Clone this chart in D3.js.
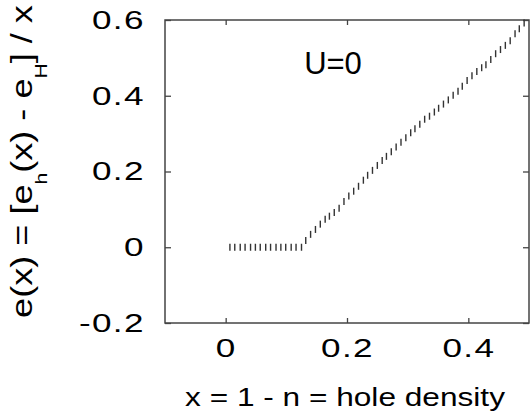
<!DOCTYPE html>
<html>
<head>
<meta charset="utf-8">
<script src="https://cdn.jsdelivr.net/npm/d3@7"></script>
<style>
  html, body { margin: 0; padding: 0; background: #fff; }
  svg { display: block; }
  text { font-family: "Liberation Sans", Arial, Helvetica, sans-serif; fill: #000; }
</style>
</head>
<body>
<svg id="chart" width="530" height="417"></svg>
<script>
// hole density x and normalised energy e(x) for U = 0
const holeDensity = [
  0.007, 0.015, 0.024, 0.032, 0.041, 0.049, 0.057, 0.066, 0.074, 0.083,
  0.091, 0.099, 0.108, 0.116, 0.125,
  0.132, 0.140, 0.148, 0.156, 0.164, 0.171, 0.179, 0.187, 0.195, 0.203,
  0.211, 0.219, 0.227, 0.234, 0.242, 0.250, 0.258, 0.265, 0.273, 0.281,
  0.289, 0.297, 0.305, 0.312, 0.320, 0.328, 0.336, 0.344, 0.351, 0.359,
  0.367, 0.375, 0.383, 0.390, 0.398, 0.406, 0.414, 0.422, 0.429, 0.437,
  0.445, 0.453, 0.461, 0.469, 0.477, 0.484, 0.492
];
const energy = [
  0.000, 0.000, 0.000, 0.000, 0.000, 0.000, 0.000, 0.000, 0.000, 0.000,
  0.000, 0.000, 0.000, 0.000, 0.000,
  0.018, 0.034, 0.047, 0.061, 0.074, 0.082, 0.092, 0.103, 0.121, 0.135,
  0.148, 0.161, 0.177, 0.190, 0.203, 0.216, 0.229, 0.240, 0.252, 0.265,
  0.277, 0.289, 0.302, 0.313, 0.325, 0.338, 0.346, 0.357, 0.367, 0.378,
  0.389, 0.401, 0.412, 0.425, 0.440, 0.453, 0.464, 0.474, 0.482, 0.496,
  0.511, 0.522, 0.533, 0.545, 0.564, 0.577, 0.592
];
const xTicks = [0, 0.2, 0.4];
const yTicks = [-0.2, 0, 0.2, 0.4, 0.6];
const xTickLabels = ["0", "0.2", "0.4"];
const yTickLabels = ["-0.2", "0", "0.2", "0.4", "0.6"];
const xTitle = "x = 1 - n = hole density";
const curveLabel = "U=0";

const svg = d3.select("#chart");
const frame = { left: 165, right: 529, top: 20, bottom: 323 };
const FRAME_COLOR = "#444";
const TEXT_STRETCH = 1.35;   // wide face used for the tick labels

const x = d3.scaleLinear().domain([-0.1, 0.5]).range([frame.left, frame.right]);
const y = d3.scaleLinear().domain([-0.2, 0.6]).range([frame.bottom, frame.top]);

const labelFor = (ticks, labels) => d => labels[ticks.findIndex(t => Math.abs(t - d) < 1e-9)];

function styleAxis(g, withLabels) {
  g.select(".domain").remove();
  g.selectAll(".tick line").attr("stroke", FRAME_COLOR).attr("stroke-width", 1.3);
  if (withLabels) {
    g.selectAll(".tick text")
      .attr("font-size", 26)
      .attr("font-family", '"Liberation Sans", Arial, sans-serif')
      .attr("fill", "#000")
      .attr("letter-spacing", 1)
      .attr("transform", `scale(${TEXT_STRETCH},1)`);
  } else {
    g.selectAll(".tick text").remove();
  }
}

// left axis with labels
svg.append("g")
  .attr("transform", `translate(${frame.left},0)`)
  .call(d3.axisLeft(y).tickValues(yTicks).tickFormat(labelFor(yTicks, yTickLabels))
    .tickSizeInner(-6).tickSizeOuter(0).tickPadding(15))
  .call(g => styleAxis(g, true));

// right mirror ticks
svg.append("g")
  .attr("transform", `translate(${frame.right},0)`)
  .call(d3.axisRight(y).tickValues(yTicks).tickSizeInner(-6).tickSizeOuter(0))
  .call(g => styleAxis(g, false));

// bottom axis with labels
svg.append("g")
  .attr("transform", `translate(0,${frame.bottom})`)
  .call(d3.axisBottom(x).tickValues(xTicks).tickFormat(labelFor(xTicks, xTickLabels))
    .tickSizeInner(-5).tickSizeOuter(0).tickPadding(16))
  .call(g => styleAxis(g, true));

// top mirror ticks
svg.append("g")
  .attr("transform", `translate(0,${frame.top})`)
  .call(d3.axisTop(x).tickValues(xTicks).tickSizeInner(-5).tickSizeOuter(0))
  .call(g => styleAxis(g, false));

// plot frame
svg.append("rect")
  .attr("x", frame.left).attr("y", frame.top)
  .attr("width", frame.right - frame.left).attr("height", frame.bottom - frame.top)
  .attr("fill", "none").attr("stroke", FRAME_COLOR).attr("stroke-width", 1.5);

// data points drawn as short vertical dashes
const points = holeDensity.map((d, i) => ({ x: d, e: energy[i] }));
svg.append("g")
  .selectAll("line")
  .data(points)
  .join("line")
  .attr("x1", d => x(d.x)).attr("x2", d => x(d.x))
  .attr("y1", d => y(d.e) - 3.5).attr("y2", d => y(d.e) + 3.5)
  .attr("stroke", "#333").attr("stroke-width", 1.4);

// curve label
svg.append("text")
  .attr("x", 333).attr("y", 74)
  .attr("text-anchor", "middle")
  .attr("font-size", 31)
  .text(curveLabel);

// x-axis title, stretched to the wide face
const xt = svg.append("text")
  .attr("text-anchor", "middle")
  .attr("font-size", 25)
  .text(xTitle);
const xtLen = xt.node().getComputedTextLength();
xt.attr("transform", `translate(345,406) scale(${320 / xtLen},1)`);

// y-axis title with subscripts
const yt = svg.append("text")
  .attr("text-anchor", "middle")
  .attr("font-size", 29);
yt.append("tspan").text("e(x) = [e");
yt.append("tspan").attr("font-size", 17).attr("dy", 15).text("h");
yt.append("tspan").attr("dy", -15).text("(x) - e");
yt.append("tspan").attr("font-size", 17).attr("dy", 15).text("H");
yt.append("tspan").attr("dy", -15).text("] / x");
const ytLen = yt.node().getComputedTextLength();
yt.attr("transform", `translate(32,161.5) rotate(-90) scale(${313 / ytLen},1)`);
</script>
</body>
</html>
